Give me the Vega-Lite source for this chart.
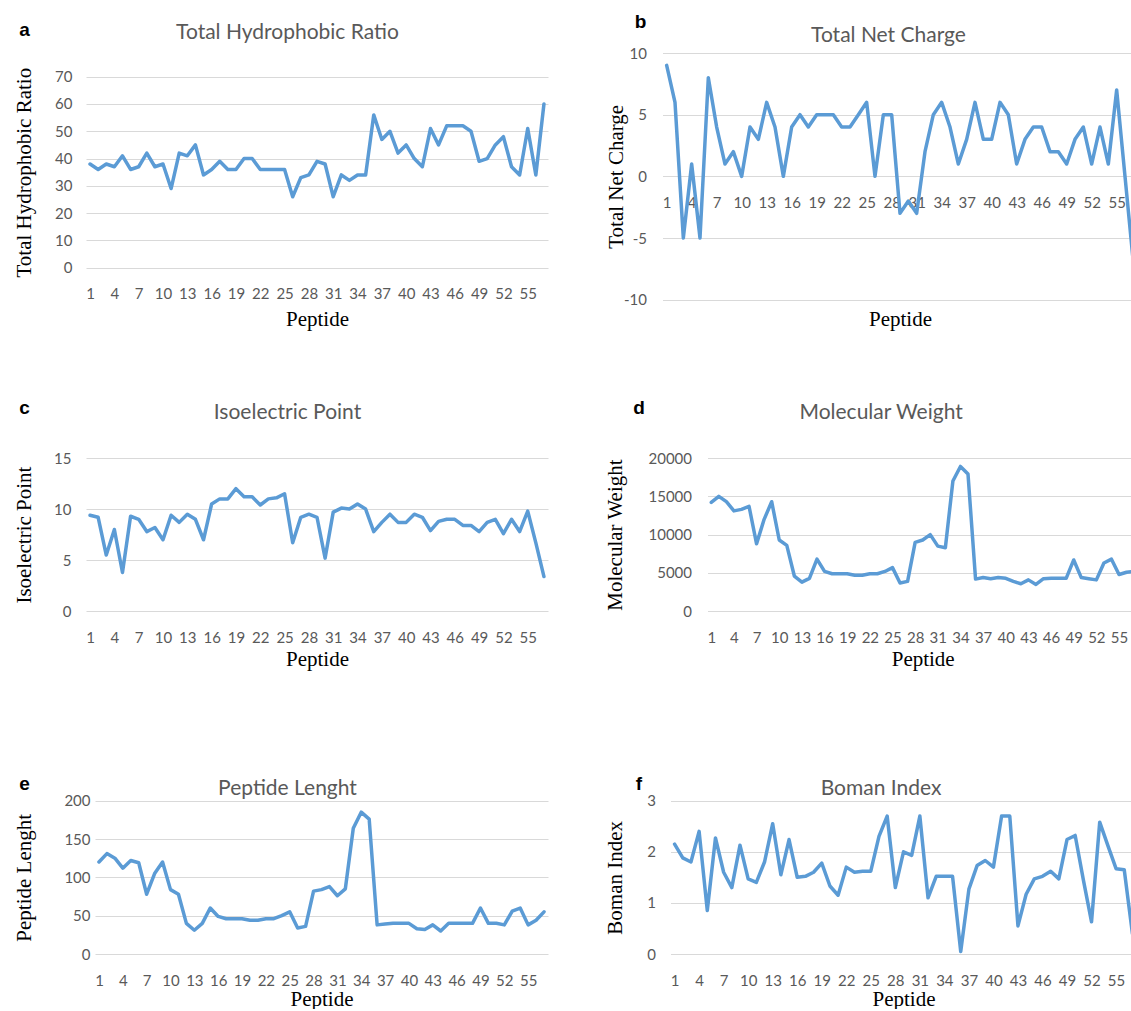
{
  "$schema": "https://vega.github.io/schema/vega-lite/v6.json",
  "background": "white",
  "padding": {"left": 12, "top": 12, "right": 0, "bottom": 0},
  "data": {"values": [
    {"Peptide": 1, "THR": 38, "NetCharge": 9, "pI": 9.4, "MW": 14200, "Length": 120, "Boman": 2.15},
    {"Peptide": 2, "THR": 36, "NetCharge": 6, "pI": 9.2, "MW": 15000, "Length": 131, "Boman": 1.88},
    {"Peptide": 3, "THR": 38, "NetCharge": -5, "pI": 5.5, "MW": 14300, "Length": 125, "Boman": 1.8},
    {"Peptide": 4, "THR": 37, "NetCharge": 1, "pI": 8.0, "MW": 13100, "Length": 112, "Boman": 2.4},
    {"Peptide": 5, "THR": 41, "NetCharge": -5, "pI": 3.8, "MW": 13300, "Length": 122, "Boman": 0.85},
    {"Peptide": 6, "THR": 36, "NetCharge": 8, "pI": 9.3, "MW": 13700, "Length": 119, "Boman": 2.27},
    {"Peptide": 7, "THR": 37, "NetCharge": 4, "pI": 9.0, "MW": 8800, "Length": 78, "Boman": 1.6},
    {"Peptide": 8, "THR": 42, "NetCharge": 1, "pI": 7.8, "MW": 12000, "Length": 105, "Boman": 1.3},
    {"Peptide": 9, "THR": 37, "NetCharge": 2, "pI": 8.2, "MW": 14300, "Length": 120, "Boman": 2.13},
    {"Peptide": 10, "THR": 38, "NetCharge": 0, "pI": 7.0, "MW": 9300, "Length": 84, "Boman": 1.47},
    {"Peptide": 11, "THR": 29, "NetCharge": 4, "pI": 9.4, "MW": 8600, "Length": 78, "Boman": 1.4},
    {"Peptide": 12, "THR": 42, "NetCharge": 3, "pI": 8.7, "MW": 4600, "Length": 40, "Boman": 1.8},
    {"Peptide": 13, "THR": 41, "NetCharge": 6, "pI": 9.5, "MW": 3800, "Length": 31, "Boman": 2.55},
    {"Peptide": 14, "THR": 45, "NetCharge": 4, "pI": 9.0, "MW": 4300, "Length": 40, "Boman": 1.55},
    {"Peptide": 15, "THR": 34, "NetCharge": 0, "pI": 7.0, "MW": 6800, "Length": 60, "Boman": 2.24},
    {"Peptide": 16, "THR": 36, "NetCharge": 4, "pI": 10.5, "MW": 5200, "Length": 49, "Boman": 1.5},
    {"Peptide": 17, "THR": 39, "NetCharge": 5, "pI": 11.0, "MW": 4900, "Length": 46, "Boman": 1.52},
    {"Peptide": 18, "THR": 36, "NetCharge": 4, "pI": 11.0, "MW": 4900, "Length": 46, "Boman": 1.6},
    {"Peptide": 19, "THR": 36, "NetCharge": 5, "pI": 12.0, "MW": 4900, "Length": 46, "Boman": 1.78},
    {"Peptide": 20, "THR": 40, "NetCharge": 5, "pI": 11.2, "MW": 4700, "Length": 44, "Boman": 1.33},
    {"Peptide": 21, "THR": 40, "NetCharge": 5, "pI": 11.2, "MW": 4700, "Length": 44, "Boman": 1.15},
    {"Peptide": 22, "THR": 36, "NetCharge": 4, "pI": 10.4, "MW": 4900, "Length": 46, "Boman": 1.7},
    {"Peptide": 23, "THR": 36, "NetCharge": 4, "pI": 11.0, "MW": 4900, "Length": 46, "Boman": 1.6},
    {"Peptide": 24, "THR": 36, "NetCharge": 5, "pI": 11.1, "MW": 5200, "Length": 50, "Boman": 1.62},
    {"Peptide": 25, "THR": 36, "NetCharge": 6, "pI": 11.5, "MW": 5700, "Length": 55, "Boman": 1.62},
    {"Peptide": 26, "THR": 26, "NetCharge": 0, "pI": 6.7, "MW": 3700, "Length": 34, "Boman": 2.3},
    {"Peptide": 27, "THR": 33, "NetCharge": 5, "pI": 9.2, "MW": 3900, "Length": 36, "Boman": 2.7},
    {"Peptide": 28, "THR": 34, "NetCharge": 5, "pI": 9.5, "MW": 9000, "Length": 82, "Boman": 1.3},
    {"Peptide": 29, "THR": 39, "NetCharge": -3, "pI": 9.2, "MW": 9300, "Length": 84, "Boman": 2.0},
    {"Peptide": 30, "THR": 38, "NetCharge": -2, "pI": 5.2, "MW": 10000, "Length": 88, "Boman": 1.93},
    {"Peptide": 31, "THR": 26, "NetCharge": -3, "pI": 9.7, "MW": 8500, "Length": 76, "Boman": 2.7},
    {"Peptide": 32, "THR": 34, "NetCharge": 2, "pI": 10.1, "MW": 8300, "Length": 85, "Boman": 1.1},
    {"Peptide": 33, "THR": 32, "NetCharge": 5, "pI": 10.0, "MW": 17000, "Length": 164, "Boman": 1.52},
    {"Peptide": 34, "THR": 34, "NetCharge": 6, "pI": 10.5, "MW": 18900, "Length": 185, "Boman": 1.52},
    {"Peptide": 35, "THR": 34, "NetCharge": 4, "pI": 10.0, "MW": 17900, "Length": 176, "Boman": 1.52},
    {"Peptide": 36, "THR": 56, "NetCharge": 1, "pI": 7.8, "MW": 4200, "Length": 38, "Boman": 0.05},
    {"Peptide": 37, "THR": 47, "NetCharge": 3, "pI": 8.7, "MW": 4400, "Length": 39, "Boman": 1.27},
    {"Peptide": 38, "THR": 50, "NetCharge": 6, "pI": 9.5, "MW": 4250, "Length": 40, "Boman": 1.73},
    {"Peptide": 39, "THR": 42, "NetCharge": 3, "pI": 8.7, "MW": 4400, "Length": 40, "Boman": 1.83},
    {"Peptide": 40, "THR": 45, "NetCharge": 3, "pI": 8.7, "MW": 4300, "Length": 40, "Boman": 1.7},
    {"Peptide": 41, "THR": 40, "NetCharge": 6, "pI": 9.5, "MW": 3900, "Length": 33, "Boman": 2.7},
    {"Peptide": 42, "THR": 37, "NetCharge": 5, "pI": 9.2, "MW": 3600, "Length": 32, "Boman": 2.7},
    {"Peptide": 43, "THR": 51, "NetCharge": 1, "pI": 7.9, "MW": 4100, "Length": 38, "Boman": 0.55},
    {"Peptide": 44, "THR": 45, "NetCharge": 3, "pI": 8.8, "MW": 3500, "Length": 30, "Boman": 1.17},
    {"Peptide": 45, "THR": 52, "NetCharge": 4, "pI": 9.0, "MW": 4250, "Length": 40, "Boman": 1.47},
    {"Peptide": 46, "THR": 52, "NetCharge": 4, "pI": 9.0, "MW": 4300, "Length": 40, "Boman": 1.52},
    {"Peptide": 47, "THR": 52, "NetCharge": 2, "pI": 8.4, "MW": 4300, "Length": 40, "Boman": 1.62},
    {"Peptide": 48, "THR": 50, "NetCharge": 2, "pI": 8.4, "MW": 4300, "Length": 40, "Boman": 1.47},
    {"Peptide": 49, "THR": 39, "NetCharge": 1, "pI": 7.8, "MW": 6700, "Length": 60, "Boman": 2.24},
    {"Peptide": 50, "THR": 40, "NetCharge": 3, "pI": 8.7, "MW": 4400, "Length": 40, "Boman": 2.32},
    {"Peptide": 51, "THR": 45, "NetCharge": 4, "pI": 9.0, "MW": 4250, "Length": 40, "Boman": 1.45},
    {"Peptide": 52, "THR": 48, "NetCharge": 1, "pI": 7.6, "MW": 4100, "Length": 38, "Boman": 0.63},
    {"Peptide": 53, "THR": 37, "NetCharge": 4, "pI": 9.0, "MW": 6300, "Length": 56, "Boman": 2.58},
    {"Peptide": 54, "THR": 34, "NetCharge": 1, "pI": 7.8, "MW": 6800, "Length": 60, "Boman": 2.12},
    {"Peptide": 55, "THR": 51, "NetCharge": 7, "pI": 9.8, "MW": 4800, "Length": 38, "Boman": 1.67},
    {"Peptide": 56, "THR": 34, "NetCharge": 0, "pI": 6.7, "MW": 5100, "Length": 44, "Boman": 1.65},
    {"Peptide": 57, "THR": 60, "NetCharge": -7, "pI": 3.4, "MW": 5200, "Length": 55, "Boman": 0.4}
  ]},
  "columns": 2,
  "align": {"row": "each", "column": "none"},
  "bounds": "full",
  "spacing": {"row": 68, "column": 56.5},
  "concat": [
    {
      "width": 462, "height": 214.7,
      "layer": [
        {"mark": {"type": "line", "color": "#5B9BD5", "strokeWidth": 3.5, "strokeJoin": "round", "strokeCap": "round", "clip": true},
         "encoding": {
           "x": {"field": "Peptide", "type": "ordinal", "scale": {"type": "point", "padding": 0.5},
                 "axis": {"orient": "bottom", "values": [1,4,7,10,13,16,19,22,25,28,31,34,37,40,43,46,49,52,55], "labelAngle": 0, "labelPadding": 19, "title": "Peptide", "titleY": 52, "titleBaseline": "middle", "titleAlign": "center"}},
           "y": {"field": "THR", "type": "quantitative", "scale": {"domain": [0, 78.685], "nice": false, "zero": false},
                 "axis": {"orient": "left", "values": [0,10,20,30,40,50,60,70], "grid": true, "labelPadding": 14, "title": "Total Hydrophobic Ratio", "titleX": -62, "titleY": 119.2, "titleAngle": 270, "titleAlign": "center", "titleBaseline": "middle"}}
         }},
        {"mark": {"type": "line", "strokeOpacity": 0, "clip": true},
         "encoding": {
           "x": {"field": "Peptide", "type": "ordinal", "axis": {"orient": "top", "labels": false, "grid": false, "title": "Total Hydrophobic Ratio", "titleX": 201, "titleY": -20.3, "titleAngle": 0, "titleAlign": "center", "titleBaseline": "middle", "titleFont": "Lato", "titleFontSize": 21, "titleColor": "#595959"}},
           "y": {"field": "THR", "type": "quantitative", "axis": {"orient": "right", "labels": false, "grid": false, "title": "a", "titleX": -524, "titleY": -23.3, "titleAngle": 0, "titleAlign": "center", "titleBaseline": "middle", "titleFont": "Liberation Sans", "titleFontWeight": "bold", "titleFontSize": 19}}
         }}
      ],
      "resolve": {"axis": {"x": "independent", "y": "independent"}}
    },
    {
      "width": 469.5, "height": 246.7,
      "layer": [
        {"mark": {"type": "line", "color": "#5B9BD5", "strokeWidth": 3.5, "strokeJoin": "round", "strokeCap": "round", "clip": true},
         "encoding": {
           "x": {"field": "Peptide", "type": "ordinal", "scale": {"type": "point", "padding": 0.5, "range": [0, 475]},
                 "axis": {"orient": "bottom", "offset": -123.35, "values": [1,4,7,10,13,16,19,22,25,28,31,34,37,40,43,46,49,52,55], "labelAngle": 0, "labelPadding": 19, "title": "Peptide", "titleY": 143.35, "titleBaseline": "middle", "titleAlign": "center"}},
           "y": {"field": "NetCharge", "type": "quantitative", "scale": {"domain": [-10, 10], "nice": false, "zero": false},
                 "axis": {"orient": "left", "values": [-10,-5,0,5,10], "labelExpr": "'' + datum.value", "grid": true, "labelPadding": 16, "title": "Total Net Charge", "titleX": -46.5, "titleY": 123.3, "titleAngle": 270, "titleAlign": "center", "titleBaseline": "middle"}}
         }},
        {"mark": {"type": "line", "strokeOpacity": 0, "clip": true},
         "encoding": {
           "x": {"field": "Peptide", "type": "ordinal", "axis": {"orient": "top", "labels": false, "grid": false, "title": "Total Net Charge", "titleX": 225.5, "titleY": -17.3, "titleAngle": 0, "titleAlign": "center", "titleBaseline": "middle", "titleFont": "Lato", "titleFontSize": 21, "titleColor": "#595959"}},
           "y": {"field": "NetCharge", "type": "quantitative", "axis": {"orient": "right", "labels": false, "grid": false, "title": "b", "titleX": -492, "titleY": -31.3, "titleAngle": 0, "titleAlign": "center", "titleBaseline": "middle", "titleFont": "Liberation Sans", "titleFontWeight": "bold", "titleFontSize": 19}}
         }}
      ],
      "resolve": {"axis": {"x": "independent", "y": "independent"}}
    },
    {
      "width": 462, "height": 153.3,
      "layer": [
        {"mark": {"type": "line", "color": "#5B9BD5", "strokeWidth": 3.5, "strokeJoin": "round", "strokeCap": "round", "clip": true},
         "encoding": {
           "x": {"field": "Peptide", "type": "ordinal", "scale": {"type": "point", "padding": 0.5},
                 "axis": {"orient": "bottom", "values": [1,4,7,10,13,16,19,22,25,28,31,34,37,40,43,46,49,52,55], "labelAngle": 0, "labelPadding": 19, "title": "Peptide", "titleY": 47.7, "titleBaseline": "middle", "titleAlign": "center"}},
           "y": {"field": "pI", "type": "quantitative", "scale": {"domain": [0, 15], "nice": false, "zero": false},
                 "axis": {"orient": "left", "values": [0,5,10,15], "grid": true, "labelPadding": 15, "title": "Isoelectric Point", "titleX": -62, "titleY": 76.6, "titleAngle": 270, "titleAlign": "center", "titleBaseline": "middle"}}
         }},
        {"mark": {"type": "line", "strokeOpacity": 0, "clip": true},
         "encoding": {
           "x": {"field": "Peptide", "type": "ordinal", "axis": {"orient": "top", "labels": false, "grid": false, "title": "Isoelectric Point", "titleX": 201, "titleY": -46, "titleAngle": 0, "titleAlign": "center", "titleBaseline": "middle", "titleFont": "Lato", "titleFontSize": 21, "titleColor": "#595959"}},
           "y": {"field": "pI", "type": "quantitative", "axis": {"orient": "right", "labels": false, "grid": false, "title": "c", "titleX": -524, "titleY": -51, "titleAngle": 0, "titleAlign": "center", "titleBaseline": "middle", "titleFont": "Liberation Sans", "titleFontWeight": "bold", "titleFontSize": 19}}
         }}
      ],
      "resolve": {"axis": {"x": "independent", "y": "independent"}}
    },
    {
      "width": 424.1, "height": 153.3,
      "layer": [
        {"mark": {"type": "line", "color": "#5B9BD5", "strokeWidth": 3.5, "strokeJoin": "round", "strokeCap": "round", "clip": true},
         "encoding": {
           "x": {"field": "Peptide", "type": "ordinal", "scale": {"type": "point", "padding": 0.5, "range": [0, 430.4]},
                 "axis": {"orient": "bottom", "values": [1,4,7,10,13,16,19,22,25,28,31,34,37,40,43,46,49,52,55], "labelAngle": 0, "labelPadding": 19, "title": "Peptide", "titleY": 47.7, "titleBaseline": "middle", "titleAlign": "center"}},
           "y": {"field": "MW", "type": "quantitative", "scale": {"domain": [0, 20000], "nice": false, "zero": false},
                 "axis": {"orient": "left", "values": [0,5000,10000,15000,20000], "format": "d", "grid": true, "labelPadding": 16, "title": "Molecular Weight", "titleX": -91.9, "titleY": 76.6, "titleAngle": 270, "titleAlign": "center", "titleBaseline": "middle"}}
         }},
        {"mark": {"type": "line", "strokeOpacity": 0, "clip": true},
         "encoding": {
           "x": {"field": "Peptide", "type": "ordinal", "axis": {"orient": "top", "labels": false, "grid": false, "title": "Molecular Weight", "titleX": 173.1, "titleY": -46, "titleAngle": 0, "titleAlign": "center", "titleBaseline": "middle", "titleFont": "Lato", "titleFontSize": 21, "titleColor": "#595959"}},
           "y": {"field": "MW", "type": "quantitative", "axis": {"orient": "right", "labels": false, "grid": false, "title": "d", "titleX": -493, "titleY": -51, "titleAngle": 0, "titleAlign": "center", "titleBaseline": "middle", "titleFont": "Liberation Sans", "titleFontWeight": "bold", "titleFontSize": 19}}
         }}
      ],
      "resolve": {"axis": {"x": "independent", "y": "independent"}}
    },
    {
      "width": 462, "height": 217,
      "layer": [
        {"mark": {"type": "line", "color": "#5B9BD5", "strokeWidth": 3.5, "strokeJoin": "round", "strokeCap": "round", "clip": true},
         "encoding": {
           "x": {"field": "Peptide", "type": "ordinal", "scale": {"type": "point", "padding": 0.5, "range": [9, 462]},
                 "axis": {"orient": "bottom", "values": [1,4,7,10,13,16,19,22,25,28,31,34,37,40,43,46,49,52,55], "labelAngle": 0, "labelPadding": 19, "title": "Peptide", "titleY": 45, "titleBaseline": "middle", "titleAlign": "center"}},
           "y": {"field": "Length", "type": "quantitative", "scale": {"domain": [0, 283.1], "nice": false, "zero": false},
                 "axis": {"orient": "left", "values": [0,50,100,150,200], "grid": true, "labelPadding": -4, "title": "Peptide Lenght", "titleX": -62, "titleY": 140.3, "titleAngle": 270, "titleAlign": "center", "titleBaseline": "middle"}}
         }},
        {"mark": {"type": "line", "strokeOpacity": 0, "clip": true},
         "encoding": {
           "x": {"field": "Peptide", "type": "ordinal", "axis": {"orient": "top", "labels": false, "grid": false, "title": "Peptide Lenght", "titleX": 201, "titleY": 51, "titleAngle": 0, "titleAlign": "center", "titleBaseline": "middle", "titleFont": "Lato", "titleFontSize": 21, "titleColor": "#595959"}},
           "y": {"field": "Length", "type": "quantitative", "axis": {"orient": "right", "labels": false, "grid": false, "title": "e", "titleX": -524, "titleY": 46, "titleAngle": 0, "titleAlign": "center", "titleBaseline": "middle", "titleFont": "Liberation Sans", "titleFontWeight": "bold", "titleFontSize": 19}}
         }}
      ],
      "resolve": {"axis": {"x": "independent", "y": "independent"}}
    },
    {
      "width": 461, "height": 217,
      "layer": [
        {"mark": {"type": "line", "color": "#5B9BD5", "strokeWidth": 3.5, "strokeJoin": "round", "strokeCap": "round", "clip": true},
         "encoding": {
           "x": {"field": "Peptide", "type": "ordinal", "scale": {"type": "point", "padding": 0.5, "range": [0, 466]},
                 "axis": {"orient": "bottom", "values": [1,4,7,10,13,16,19,22,25,28,31,34,37,40,43,46,49,52,55], "labelAngle": 0, "labelPadding": 19, "title": "Peptide", "titleY": 45, "titleBaseline": "middle", "titleAlign": "center"}},
           "y": {"field": "Boman", "type": "quantitative", "scale": {"domain": [0, 4.2466], "nice": false, "zero": false},
                 "axis": {"orient": "left", "values": [0,1,2,3], "grid": true, "labelPadding": 15, "title": "Boman Index", "titleX": -55, "titleY": 140.3, "titleAngle": 270, "titleAlign": "center", "titleBaseline": "middle"}}
         }},
        {"mark": {"type": "line", "strokeOpacity": 0, "clip": true},
         "encoding": {
           "x": {"field": "Peptide", "type": "ordinal", "axis": {"orient": "top", "labels": false, "grid": false, "title": "Boman Index", "titleX": 210, "titleY": 51, "titleAngle": 0, "titleAlign": "center", "titleBaseline": "middle", "titleFont": "Lato", "titleFontSize": 21, "titleColor": "#595959"}},
           "y": {"field": "Boman", "type": "quantitative", "axis": {"orient": "right", "labels": false, "grid": false, "title": "f", "titleX": -493, "titleY": 46, "titleAngle": 0, "titleAlign": "center", "titleBaseline": "middle", "titleFont": "Liberation Sans", "titleFontWeight": "bold", "titleFontSize": 19}}
         }}
      ],
      "resolve": {"axis": {"x": "independent", "y": "independent"}}
    }
  ],
  "config": {
    "view": {"stroke": null},
    "axis": {
      "domain": false, "ticks": false, "tickSize": 0,
      "labelFont": "Lato", "labelFontSize": 15, "labelColor": "#595959",
      "titleFont": "Liberation Serif", "titleFontSize": 21, "titleColor": "#000000", "titleFontWeight": "normal",
      "gridColor": "#D9D9D9", "gridWidth": 1
    }
  }
}
